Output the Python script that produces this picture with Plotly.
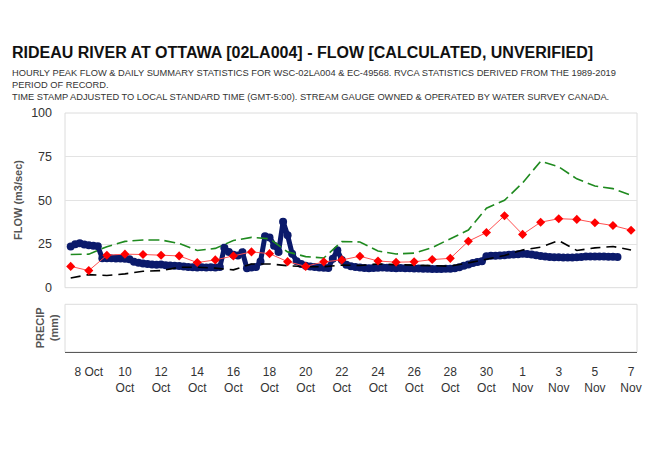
import plotly.graph_objects as go
import pandas as pd

# ---- data ----
daily_dates = pd.date_range("2020-10-07", "2020-11-07", freq="D")
daily_mean = [12.2, 9.8, 18.6, 19.2, 19.0, 18.6, 18.2, 14.4, 15.9, 18.2, 20.5, 19.5, 14.9, 12.2, 14.8, 15.9,
              18.0, 15.3, 14.6, 14.8, 16.1, 16.8, 26.6, 31.6, 41.2, 30.5, 37.5, 39.5, 39.1, 37.2, 35.6, 32.9]
daily_max = [19.0, 19.2, 23.5, 26.5, 27.3, 27.3, 25.3, 21.3, 22.5, 27.0, 28.8, 28.0, 20.5, 17.8, 17.0, 26.4,
             26.2, 21.0, 19.3, 19.8, 23.0, 28.0, 33.0, 45.5, 50.0, 60.0, 72.4, 69.2, 62.3, 58.2, 56.7, 52.9]
daily_min = [5.6, 7.5, 7.0, 7.9, 9.4, 9.8, 11.7, 11.7, 11.2, 10.2, 13.6, 13.6, 12.6, 12.0, 12.0, 13.0,
             12.7, 13.6, 13.2, 13.0, 12.7, 12.3, 14.2, 16.2, 18.4, 21.6, 23.2, 27.0, 21.3, 22.8, 23.6, 21.6]

flow_times = pd.date_range("2020-10-07 00:00", periods=122, freq="6h")
flow_values = [
    23.6, 24.8, 25.4, 24.7, 24.3, 24.0, 23.7, 16.8,
    16.8, 16.8, 16.7, 16.7, 16.6, 16.3, 14.9, 14.3,
    13.9, 13.5, 13.3, 13.1, 13.3, 12.9, 12.7, 12.6,
    12.4, 12.2, 11.9, 11.7, 11.6, 11.7, 11.6, 11.7,
    11.6, 11.8, 22.8, 20.4, 18.8, 18.5, 20.3, 11.2,
    11.5, 11.8, 15.0, 29.5, 28.8, 24.0, 20.5, 37.8,
    30.0, 19.5, 15.2, 13.5, 12.6, 12.1, 11.8, 11.6,
    11.4, 11.3, 16.5, 21.5, 15.8, 13.2, 12.3, 11.8,
    11.5, 11.3, 11.2, 11.3, 11.4, 11.5, 11.4, 11.3,
    11.2, 11.3, 11.2, 11.1, 11.0, 11.0, 10.9, 10.8,
    10.7, 10.7, 10.7, 10.8, 10.9, 11.1, 11.7, 12.5,
    13.3, 14.1, 14.7, 15.1, 18.0, 18.3, 18.3, 18.4,
    18.6, 18.8, 19.0, 19.2, 19.4, 19.3, 19.0, 18.6,
    18.2, 17.9, 17.6, 17.5, 17.4, 17.3, 17.3, 17.3,
    17.4, 17.6, 17.8, 17.8, 17.9, 17.8, 17.8, 17.7,
    17.7, 17.6,
]

# no precipitation recorded in the period
precip_times = []
precip_values = []

tick_dates = ["2020-10-08", "2020-10-10", "2020-10-12", "2020-10-14", "2020-10-16", "2020-10-18",
              "2020-10-20", "2020-10-22", "2020-10-24", "2020-10-26", "2020-10-28", "2020-10-30",
              "2020-11-01", "2020-11-03", "2020-11-05", "2020-11-07"]
tick_labels = ["8 Oct", "10<br>Oct", "12<br>Oct", "14<br>Oct", "16<br>Oct", "18<br>Oct", "20<br>Oct",
               "22<br>Oct", "24<br>Oct", "26<br>Oct", "28<br>Oct", "30<br>Oct", "1<br>Nov", "3<br>Nov",
               "5<br>Nov", "7<br>Nov"]

title_text = "RIDEAU RIVER AT OTTAWA [02LA004] - FLOW [CALCULATED, UNVERIFIED]"
subtitle_lines = [
    "HOURLY PEAK FLOW & DAILY SUMMARY STATISTICS FOR WSC-02LA004 & EC-49568. RVCA STATISTICS DERIVED FROM THE 1989-2019",
    "PERIOD OF RECORD.",
    "TIME STAMP ADJUSTED TO LOCAL STANDARD TIME (GMT-5:00). STREAM GAUGE OWNED & OPERATED BY WATER SURVEY CANADA.",
]

FONT = "Liberation Sans, Arial, Helvetica, sans-serif"

# ---- layout geometry (page has an 8px body margin) ----
OFF = 8
W, H = 644, 455
ML, MR, MT, MB = 57, 10, 105, 111
PW = W - ML - MR
PH = H - MT - MB


def px_x(x):
    return (x - OFF - ML) / PW


def px_y(y):
    return (H - MB - (y - OFF)) / PH


flow_dom = [px_y(287.7), 1.0]
precip_dom = [0.0, px_y(304.3)]

fig = go.Figure()

fig.add_trace(go.Scatter(
    x=precip_times, y=precip_values, mode="lines", xaxis="x", yaxis="y2",
    showlegend=False, hoverinfo="skip"))

fig.add_trace(go.Scatter(
    x=flow_times, y=flow_values, mode="lines+markers",
    line=dict(color="#0b1a6b", width=5),
    marker=dict(color="#0b1a6b", size=8),
    yaxis="y", xaxis="x", showlegend=False, hoverinfo="skip"))

fig.add_trace(go.Scatter(
    x=daily_dates, y=daily_max, mode="lines",
    line=dict(color="#1f8a1f", width=1.6, dash="11px,5px"),
    yaxis="y", showlegend=False))

fig.add_trace(go.Scatter(
    x=daily_dates, y=daily_min, mode="lines",
    line=dict(color="#000000", width=1.6, dash="10px,6px"),
    yaxis="y", showlegend=False))

fig.add_trace(go.Scatter(
    x=daily_dates, y=daily_mean, mode="lines+markers",
    line=dict(color="#ff5050", width=1),
    marker=dict(color="#ff0000", size=7, symbol="diamond"),
    yaxis="y", showlegend=False))

fig.update_layout(
    width=W, height=H,
    margin=dict(l=ML, r=MR, t=MT, b=MB),
    paper_bgcolor="white", plot_bgcolor="white",
    font=dict(family=FONT, color="#333333"),
    xaxis=dict(
        type="date",
        range=["2020-10-06 16:25", "2020-11-07 07:55"],
        tickvals=tick_dates, ticktext=tick_labels,
        tickfont=dict(size=12, color="#333333"),
        ticks="", showgrid=False, zeroline=False,
        showline=True, linecolor="#5a5a5a", linewidth=1,
        anchor="y2", ticklabelstandoff=9,
    ),
    yaxis=dict(
        domain=flow_dom, range=[0, 100],
        tickvals=[0, 25, 50, 75, 100],
        tickfont=dict(size=12.5, color="#333333"),
        showgrid=True, gridcolor="#e3e3e3", gridwidth=1,
        zeroline=False, showline=False, ticks="",
        ticklabelstandoff=12,
    ),
    yaxis2=dict(
        domain=precip_dom, range=[0, 10],
        showticklabels=False, showgrid=False, zeroline=False,
        showline=False, ticks="",
    ),
    shapes=[
        dict(type="rect", xref="paper", yref="paper", x0=0, x1=1, y0=flow_dom[0], y1=flow_dom[1],
             line=dict(color="#dcdcdc", width=1), layer="below"),
        dict(type="rect", xref="paper", yref="paper", x0=0, x1=1, y0=precip_dom[0], y1=precip_dom[1],
             line=dict(color="#dcdcdc", width=1), layer="below"),
    ],
    annotations=[
        dict(text="<b>" + title_text + "</b>", xref="paper", yref="paper",
             x=px_x(10), y=px_y(52), xanchor="left", yanchor="middle", showarrow=False,
             font=dict(size=16, color="#111111", family=FONT)),
        dict(text="<br>".join(subtitle_lines), xref="paper", yref="paper",
             x=px_x(10), y=px_y(85), xanchor="left", yanchor="middle", align="left", showarrow=False,
             font=dict(size=9.3, color="#333333", family=FONT)),
        dict(text="<b>FLOW (m3/sec)</b>", xref="paper", yref="paper",
             x=px_x(18.3), y=(flow_dom[0] + flow_dom[1]) / 2, xanchor="center", yanchor="middle",
             textangle=-90, showarrow=False, font=dict(size=11, color="#555555", family=FONT)),
        dict(text="<b>PRECIP</b><br><b>(mm)</b>", xref="paper", yref="paper",
             x=px_x(47), y=(precip_dom[0] + precip_dom[1]) / 2, xanchor="center", yanchor="middle",
             textangle=-90, showarrow=False, font=dict(size=11, color="#555555", family=FONT)),
    ],
)

fig.write_html("out.html")
